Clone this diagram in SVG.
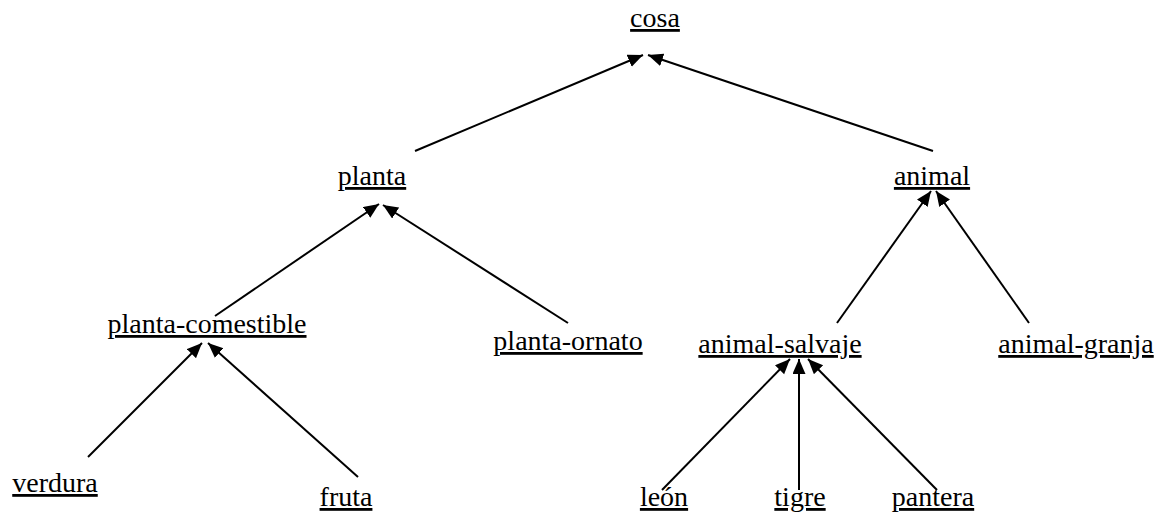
<svg xmlns="http://www.w3.org/2000/svg" width="1155" height="512" viewBox="0 0 1155 512">
<style>
.lbl{font-family:"Liberation Serif","DejaVu Serif",serif;font-size:28px;fill:#000;text-anchor:middle;text-decoration:underline}
.edge{stroke:#000;stroke-width:2;fill:none;marker-end:url(#arr)}
</style>
<defs>
<marker id="arr" markerUnits="userSpaceOnUse" markerWidth="16" markerHeight="14" refX="15" refY="6.5" orient="auto">
<path d="M0,0 L15,6.5 L0,13 Z" fill="#000"/>
</marker>
</defs>
<rect width="1155" height="512" fill="#fff"/>
<g id="connectors">
<line class="edge" x1="415" y1="151" x2="643" y2="55"/>
<line class="edge" x1="933" y1="151" x2="648" y2="55"/>
<line class="edge" x1="215" y1="316" x2="379" y2="204"/>
<line class="edge" x1="568" y1="323" x2="383" y2="205"/>
<line class="edge" x1="837" y1="323" x2="931" y2="191"/>
<line class="edge" x1="1029" y1="323" x2="936" y2="191"/>
<line class="edge" x1="88" y1="457" x2="202" y2="343"/>
<line class="edge" x1="358" y1="477" x2="208" y2="343"/>
<line class="edge" x1="662" y1="490" x2="790" y2="359"/>
<line class="edge" x1="799" y1="490" x2="799" y2="359"/>
<line class="edge" x1="937" y1="490" x2="808" y2="359"/>
</g>
<g id="cosa"><text class="lbl" x="655" y="27">cosa</text></g>
<g id="planta"><text class="lbl" x="372" y="185">planta</text></g>
<g id="animal"><text class="lbl" x="932" y="185">animal</text></g>
<g id="planta-comestible"><text class="lbl" x="207" y="333">planta-comestible</text></g>
<g id="planta-ornato"><text class="lbl" x="568" y="350">planta-ornato</text></g>
<g id="animal-salvaje"><text class="lbl" x="780" y="353">animal-salvaje</text></g>
<g id="animal-granja"><text class="lbl" x="1076" y="353">animal-granja</text></g>
<g id="verdura"><text class="lbl" x="55" y="492">verdura</text></g>
<g id="fruta"><text class="lbl" x="346" y="506">fruta</text></g>
<g id="leon"><text class="lbl" x="664" y="506">león</text></g>
<g id="tigre"><text class="lbl" x="800" y="506">tigre</text></g>
<g id="pantera"><text class="lbl" x="933" y="506">pantera</text></g>
</svg>
